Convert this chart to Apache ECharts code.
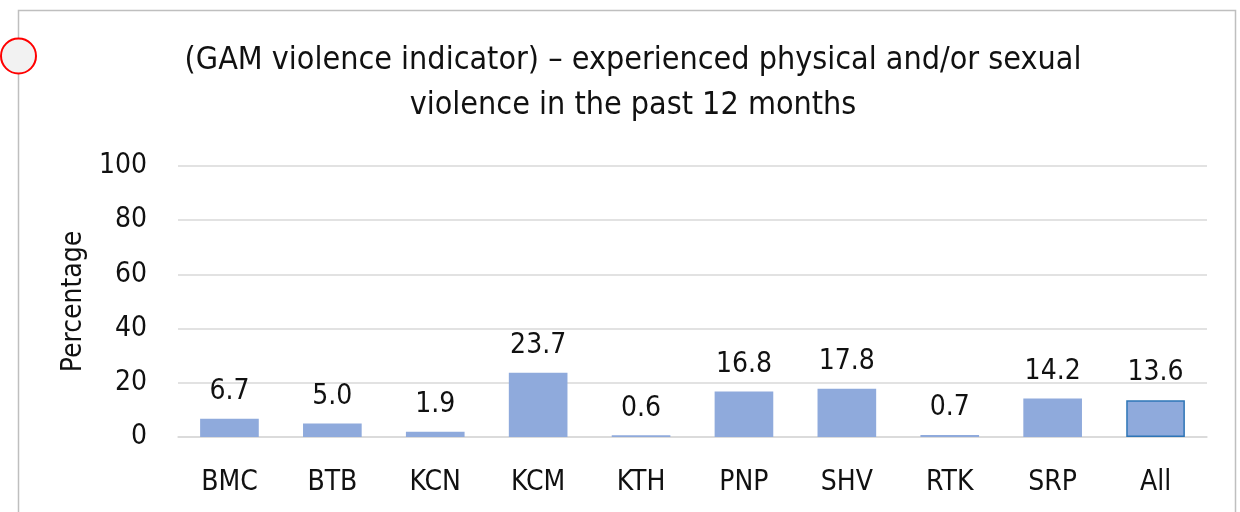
<!DOCTYPE html>
<html>
<head>
<meta charset="utf-8">
<script src="https://cdn.jsdelivr.net/npm/echarts@6/dist/echarts.min.js"></script>
<style>
  html, body { margin: 0; padding: 0; background: #fff; }
  #chart { width: 1240px; height: 512px; }
</style>
</head>
<body>
<div id="chart"></div>
<script>
// Site codes and the share of respondents reporting violence (%)
const categories = ['BMC', 'BTB', 'KCN', 'KCM', 'KTH', 'PNP', 'SHV', 'RTK', 'SRP', 'All'];
const values = [6.7, 5.0, 1.9, 23.7, 0.6, 16.8, 17.8, 0.7, 14.2, 13.6];
const yTicks = [0, 20, 40, 60, 80, 100];

const FONT = '"Liberation Sans Narrow", "DejaVu Sans Condensed", "Roboto Condensed", sans-serif';
const TEXT = '#111';
const GRID = '#D9D9D9';
const BAR = '#8FAADC';

const chart = echarts.init(document.getElementById('chart'), null, { renderer: 'canvas' });

const barData = values.map((v, i) => {
  const item = { value: v };
  if (categories[i] === 'All') {
    item.itemStyle = { borderColor: '#2E75B6', borderWidth: 1.5 };
  }
  return item;
});

chart.setOption({
  animation: false,
  backgroundColor: '#fff',
  title: {
    text: '(GAM violence indicator) – experienced physical and/or sexual\nviolence in the past 12 months',
    left: 628,
    top: 33,
    textAlign: 'center',
    textStyle: { fontFamily: FONT, fontSize: 32, fontWeight: 'normal', color: TEXT, lineHeight: 45 }
  },
  grid: { left: 178, right: 33, top: 166, bottom: 75, containLabel: false },
  xAxis: {
    type: 'category',
    data: categories,
    axisTick: { show: false },
    axisLine: { lineStyle: { color: GRID, width: 1.5 } },
    axisLabel: { fontFamily: FONT, fontSize: 28, color: TEXT, margin: 32 }
  },
  yAxis: {
    type: 'value',
    min: yTicks[0],
    max: yTicks[yTicks.length - 1],
    interval: yTicks[1] - yTicks[0],
    name: 'Percentage',
    nameLocation: 'middle',
    nameGap: 88,
    nameTextStyle: { fontFamily: FONT, fontSize: 28, color: TEXT },
    axisLine: { show: false },
    axisTick: { show: false },
    splitLine: { lineStyle: { color: GRID, width: 1.5 } },
    axisLabel: { fontFamily: FONT, fontSize: 28, color: TEXT, margin: 31 }
  },
  series: [{
    type: 'bar',
    data: barData,
    barWidth: '57%',
    itemStyle: { color: BAR },
    label: {
      show: true,
      position: 'top',
      distance: 13,
      formatter: p => p.value.toFixed(1),
      fontFamily: FONT,
      fontSize: 28,
      color: TEXT
    }
  }],
  graphic: [
    {
      type: 'rect',
      shape: { x: 18.5, y: 10.5, width: 1217, height: 520 },
      style: { fill: 'none', stroke: '#BFBFBF', lineWidth: 1.5 },
      silent: true,
      z: -1
    },
    {
      type: 'circle',
      shape: { cx: 18.5, cy: 56, r: 17.5 },
      style: { fill: '#F2F2F2', stroke: '#FF0000', lineWidth: 2 },
      silent: true,
      z: 10
    }
  ]
});
</script>
</body>
</html>
